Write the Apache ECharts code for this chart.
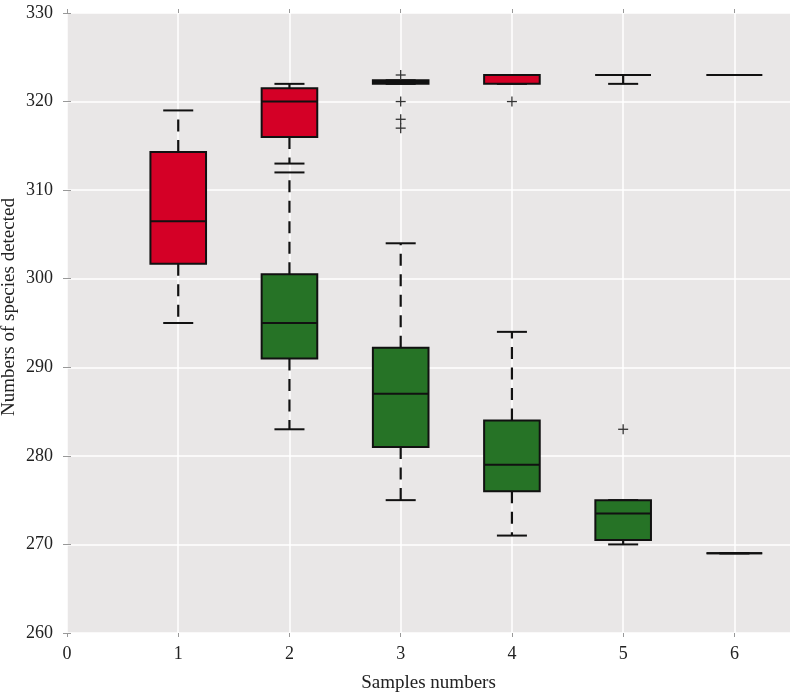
<!DOCTYPE html>
<html>
<head>
<meta charset="utf-8">
<script src="https://cdn.jsdelivr.net/npm/echarts@6/dist/echarts.min.js"></script>
<style>html,body{margin:0;padding:0;background:#fff}#c{width:800px;height:697px}</style>
</head>
<body>
<div id="c"></div>
<script>
// Sample numbers (x positions)
const samples = [1, 2, 3, 4, 5, 6];
const xTickLabels = [0, 1, 2, 3, 4, 5, 6];
const yTickLabels = [260, 270, 280, 290, 300, 310, 320, 330];
// Red boxes: [min, Q1, median, Q3, max] for samples 1..6
const redBoxes = [
  [295, 301.7, 306.5, 314.3, 319],
  [313, 316, 320, 321.5, 322],
  [322, 322, 322.2, 322.4, 322.4],
  [322, 322, 323, 323, 323],
  [322, 323, 323, 323, 323],
  [323, 323, 323, 323, 323]
];
const redSamples = [1, 2, 3, 4, 5, 6];
// Green boxes: [min, Q1, median, Q3, max] for samples 2..6
const greenBoxes = [
  [283, 291, 295, 300.5, 312],
  [275, 281, 287, 292.2, 304],
  [271, 276, 279, 284, 294],
  [270, 270.5, 273.5, 275, 275],
  [269, 269, 269, 269, 269]
];
const greenSamples = [2, 3, 4, 5, 6];
// Outliers [sample, value]
const redOutliers = [[3, 323], [3, 320], [3, 318], [3, 317], [4, 320]];
const greenOutliers = [[5, 283]];

const FONT = '"Liberation Serif", "DejaVu Serif", serif';
const RED = '#d40026';
const GREEN = '#267326';
const EDGE = '#111';

function boxRenderer(fill) {
  return function (params, api) {
    const x = api.value(0), mn = api.value(1), q1 = api.value(2),
      med = api.value(3), q3 = api.value(4), mx = api.value(5);
    const hw = 0.25, ch = 0.135;
    const tl = api.coord([x - hw, q3]);
    const br = api.coord([x + hw, q1]);
    const c = (a, b) => api.coord([a, b]);
    const children = [];
    const dash = { stroke: EDGE, lineWidth: 2.2, lineDash: [12, 8.5] };
    const solid = { stroke: EDGE, lineWidth: 2 };
    if (mx > q3) {
      const a = c(x, q3), b = c(x, mx);
      children.push({ type: 'line', shape: { x1: a[0], y1: a[1], x2: b[0], y2: b[1] }, style: dash });
    }
    if (mn < q1) {
      const a = c(x, q1), b = c(x, mn);
      children.push({ type: 'line', shape: { x1: a[0], y1: a[1], x2: b[0], y2: b[1] }, style: dash });
    }
    let a = c(x - ch, mx), b = c(x + ch, mx);
    children.push({ type: 'line', shape: { x1: a[0], y1: a[1], x2: b[0], y2: b[1] }, style: solid });
    a = c(x - ch, mn); b = c(x + ch, mn);
    children.push({ type: 'line', shape: { x1: a[0], y1: a[1], x2: b[0], y2: b[1] }, style: solid });
    children.push({
      type: 'rect',
      shape: { x: tl[0], y: tl[1], width: br[0] - tl[0], height: br[1] - tl[1] },
      style: { fill: fill, stroke: EDGE, lineWidth: 2 }
    });
    a = c(x - hw, med); b = c(x + hw, med);
    children.push({ type: 'line', shape: { x1: a[0], y1: a[1], x2: b[0], y2: b[1] }, style: solid });
    return { type: 'group', children: children };
  };
}

function plusRenderer(params, api) {
  const p = api.coord([api.value(0), api.value(1)]);
  const s = 5;
  return {
    type: 'group',
    children: [
      { type: 'line', shape: { x1: p[0] - s, y1: p[1], x2: p[0] + s, y2: p[1] }, style: { stroke: '#333', lineWidth: 1.3 } },
      { type: 'line', shape: { x1: p[0], y1: p[1] - s, x2: p[0], y2: p[1] + s }, style: { stroke: '#333', lineWidth: 1.3 } }
    ]
  };
}

const redData = redBoxes.map((b, i) => [redSamples[i]].concat(b));
const greenData = greenBoxes.map((b, i) => [greenSamples[i]].concat(b));

const tickStyle = { show: true, length: 4, lineStyle: { color: '#999', width: 1 } };

const chart = echarts.init(document.getElementById('c'), null, { renderer: 'canvas' });
chart.setOption({
  animation: false,
  backgroundColor: '#fff',
  grid: { left: 67, right: 10, top: 13, bottom: 64, show: true, backgroundColor: '#e9e7e7', borderWidth: 0, containLabel: false, outerBoundsMode: 'none' },
  xAxis: [{
    type: 'value', min: 0, max: 6.5, interval: 1, position: 'bottom',
    axisLine: { show: false },
    axisTick: Object.assign({ customValues: xTickLabels }, tickStyle),
    axisLabel: { customValues: xTickLabels, fontFamily: FONT, fontSize: 18, color: '#222', margin: 12 },
    splitLine: { show: true, lineStyle: { color: '#fff', width: 1.5 } },
    name: 'Samples numbers', nameLocation: 'middle', nameGap: 41, nameMoveOverlap: false,
    nameTextStyle: { fontFamily: FONT, fontSize: 19, color: '#222' }
  }, {
    type: 'value', min: 0, max: 6.5, interval: 1, position: 'top',
    axisLine: { show: false },
    axisTick: Object.assign({ customValues: xTickLabels }, tickStyle),
    axisLabel: { show: false }, splitLine: { show: false }
  }],
  yAxis: [{
    type: 'value', min: 260, max: 330, interval: 10, position: 'left',
    axisLine: { show: false },
    axisTick: tickStyle,
    axisLabel: { customValues: yTickLabels, fontFamily: FONT, fontSize: 18, color: '#222', margin: 14 },
    splitLine: { show: true, lineStyle: { color: '#fff', width: 1.5 } },
    name: 'Numbers of species detected', nameLocation: 'middle', nameGap: 48, nameMoveOverlap: false,
    nameTextStyle: { fontFamily: FONT, fontSize: 19, color: '#222', padding: [0, 0, 0, 32] }
  }, {
    type: 'value', min: 260, max: 330, interval: 10, position: 'right',
    axisLine: { show: false },
    axisTick: tickStyle,
    axisLabel: { show: false }, splitLine: { show: false }
  }],
  series: [
    { type: 'custom', name: 'red', data: redData, renderItem: boxRenderer(RED), clip: false, z: 3 },
    { type: 'custom', name: 'green', data: greenData, renderItem: boxRenderer(GREEN), clip: false, z: 3 },
    { type: 'custom', name: 'redOut', data: redOutliers, renderItem: plusRenderer, z: 4 },
    { type: 'custom', name: 'greenOut', data: greenOutliers, renderItem: plusRenderer, z: 4 }
  ]
});
</script>
</body>
</html>
